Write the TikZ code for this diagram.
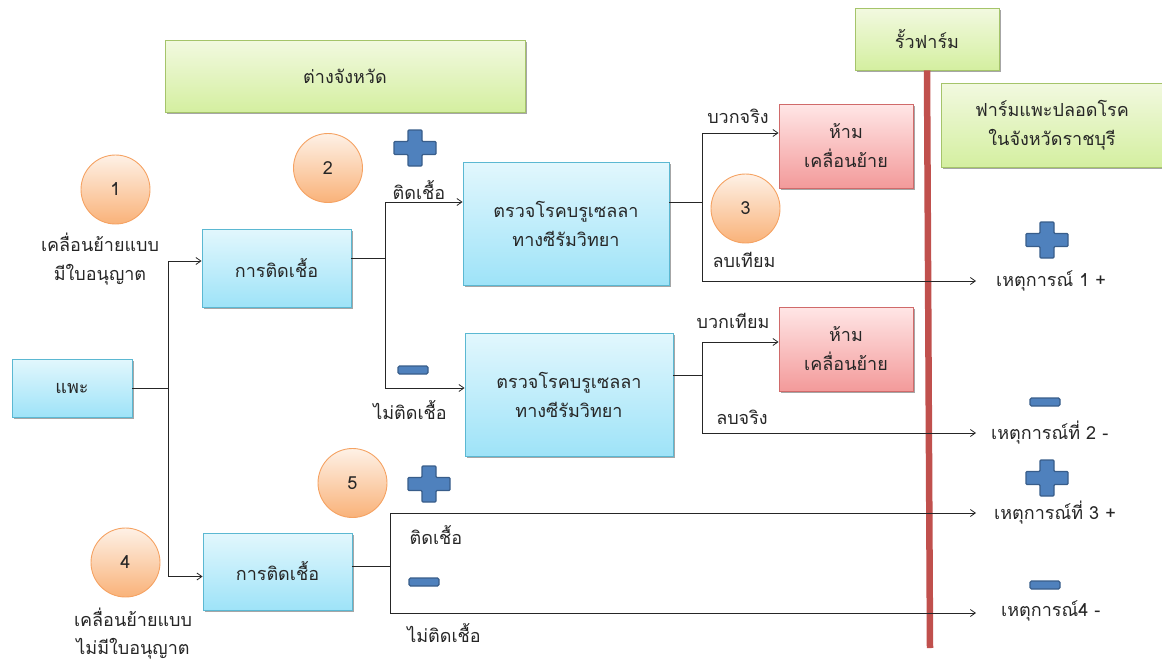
\documentclass[tikz,border=0pt]{standalone}
\usepackage{fontspec}
\setmainfont{Loma}[Script=Thai]
\usetikzlibrary{arrows.meta,shadows}
\definecolor{bluetop}{HTML}{E2F7FD}
\definecolor{bluebot}{HTML}{9EE3F8}
\definecolor{blueedge}{HTML}{5BB8D2}
\definecolor{redtop}{HTML}{FFE6E6}
\definecolor{redbot}{HTML}{F39A9A}
\definecolor{rededge}{HTML}{D06A6A}
\definecolor{greentop}{HTML}{F2F9E0}
\definecolor{greenbot}{HTML}{D4EFA0}
\definecolor{greenedge}{HTML}{A5C46A}
\definecolor{orgtop}{HTML}{FEF1E6}
\definecolor{orgbot}{HTML}{F9B279}
\definecolor{orgedge}{HTML}{F5A262}
\definecolor{fence}{HTML}{C0504D}
\definecolor{signfill}{HTML}{4F81BD}
\definecolor{signedge}{HTML}{385D8A}
\definecolor{ink}{HTML}{262626}
\tikzset{
  base/.style={font=\fontsize{18}{29}\selectfont, align=center, text=ink},
  shad/.style={drop shadow={shadow xshift=1.5pt,shadow yshift=-1.5pt,opacity=0.35,fill=black}},
  bluebox/.style={base, shad, draw=blueedge, line width=0.9pt, top color=bluetop, bottom color=bluebot},
  redbox/.style={base, shad, draw=rededge, line width=0.9pt, top color=redtop, bottom color=redbot},
  greenbox/.style={base, shad, draw=greenedge, line width=0.9pt, top color=greentop, bottom color=greenbot},
  numcirc/.style={base, circle, minimum size=69pt, draw=orgedge, line width=0.9pt, top color=orgtop, bottom color=orgbot},
  lbl/.style={base, inner sep=1pt},
  ln/.style={line width=0.8pt, draw=ink},
  arr/.style={ln, -{Straight Barb[length=5pt,width=7pt]}},
  plussign/.pic={\draw[signedge, fill=signfill, line width=1.2pt, rounded corners=1pt]
     (-7,-18)--(7,-18)--(7,-6.5)--(21,-6.5)--(21,6.5)--(7,6.5)--(7,18)--(-7,18)--(-7,6.5)--(-21,6.5)--(-21,-6.5)--(-7,-6.5)--cycle;},
  minussign/.pic={\draw[signedge, fill=signfill, line width=1.2pt, rounded corners=1.5pt] (-15,-4) rectangle (15,4);}
}
\begin{document}
\begin{tikzpicture}[x=1pt,y=-1pt]
\useasboundingbox (0,0) rectangle (1162,664);
% green boxes
\node[greenbox, minimum width=360pt, minimum height=72pt] (prov) at (345,76) {ต่างจังหวัด};
\node[greenbox, minimum width=144pt, minimum height=62pt] (fencebox) at (927,39) {รั้วฟาร์ม};
\node[greenbox, minimum width=222pt, minimum height=84pt] (farm) at (1052,125) {ฟาร์มแพะปลอดโรค\\ในจังหวัดราชบุรี};
% fence
\coordinate (fenceend) at (930,648);
\draw[fence, line width=6.5pt] (fencebox.south) -- (fenceend);
% blue boxes
\node[bluebox, minimum width=120pt, minimum height=58pt] (goat) at (72,388) {แพะ};
\node[bluebox, minimum width=149pt, minimum height=78pt] (inf1) at (276.5,268) {การติดเชื้อ};
\node[bluebox, minimum width=149pt, minimum height=77pt] (inf2) at (277.5,571.5) {การติดเชื้อ};
\node[bluebox, minimum width=206pt, minimum height=123pt] (test1) at (566,223.5) {ตรวจโรคบรูเซลลา\\ทางซีรัมวิทยา};
\node[bluebox, minimum width=208pt, minimum height=123pt] (test2) at (569,394.5) {ตรวจโรคบรูเซลลา\\ทางซีรัมวิทยา};
% red boxes
\node[redbox, minimum width=134pt, minimum height=84pt] (ban1) at (846,146) {ห้าม\\เคลื่อนย้าย};
\node[redbox, minimum width=134pt, minimum height=84pt] (ban2) at (846,349) {ห้าม\\เคลื่อนย้าย};
% circles
\node[numcirc] (c1) at (115.5,189.5) {1};
\node[numcirc] (c2) at (328,168) {2};
\node[numcirc] (c3) at (745.5,208.5) {3};
\node[numcirc] (c4) at (125.5,562.5) {4};
\node[numcirc] (c5) at (352.5,483) {5};
% texts
\node[lbl] (l1) at (100,259) {เคลื่อนย้ายแบบ\\มีใบอนุญาต};
\node[lbl, font=\fontsize{18}{28}\selectfont] (l4) at (133,634) {เคลื่อนย้ายแบบ\\ไม่มีใบอนุญาต};
\node[lbl] (tp1) at (738,116) {บวกจริง};
\node[lbl] (fn1) at (744,260) {ลบเทียม};
\node[lbl] (fp2) at (733,321) {บวกเทียม};
\node[lbl] (tn2) at (742,417) {ลบจริง};
\node[lbl] (pos1) at (419,190) {ติดเชื้อ};
\node[lbl] (neg1) at (410,410) {ไม่ติดเชื้อ};
\node[lbl] (pos2) at (436,535) {ติดเชื้อ};
\node[lbl] (neg2) at (444,633) {ไม่ติดเชื้อ};
\node[lbl, anchor=west] (ev1) at (995,281) {เหตุการณ์ 1 +};
\node[lbl, anchor=west] (ev2) at (990,433) {เหตุการณ์ที่ 2 -};
\node[lbl, anchor=west] (ev3) at (993,513) {เหตุการณ์ที่ 3 +};
\node[lbl, anchor=west] (ev4) at (1000,611) {เหตุการณ์4 -};
% signs
\pic at (415,148) {plussign};
\pic at (413,370) {minussign};
\pic at (429,484) {plussign};
\pic at (424,582) {minussign};
\pic at (1047,240) {plussign};
\pic at (1045,402) {minussign};
\pic at (1047,478) {plussign};
\pic at (1045,585) {minussign};
% connectors
\coordinate (j1) at (168,388);
\draw[ln] (goat.east) -- (j1);
\draw[arr] (j1) |- ([yshift=7pt]inf1.west);
\draw[arr] (j1) |- ([yshift=-5pt]inf2.west);
\coordinate (j2) at (385,258);
\draw[ln] (inf1.east |- j2) -- (j2);
\draw[arr] (j2) |- ([yshift=21.5pt]test1.west);
\draw[arr] (j2) |- ([yshift=6.5pt]test2.west);
\coordinate (j3) at (702,202);
\draw[ln] (test1.east |- j3) -- (j3);
\draw[arr] (j3) |- ([yshift=13pt]ban1.west);
\draw[arr] (j3) |- ([xshift=-19pt]ev1.west);
\coordinate (j4) at (702,375);
\draw[ln] (test2.east |- j4) -- (j4);
\draw[arr] (j4) |- ([yshift=7pt]ban2.west);
\draw[arr] (j4) |- ([xshift=-14pt]ev2.west);
\coordinate (j5) at (390,566);
\draw[ln] (inf2.east |- j5) -- (j5);
\draw[arr] (j5) |- ([xshift=-17pt]ev3.west);
\draw[arr] (j5) |- ([xshift=-24pt,yshift=-2pt]ev4.west);
\end{tikzpicture}
\end{document}
